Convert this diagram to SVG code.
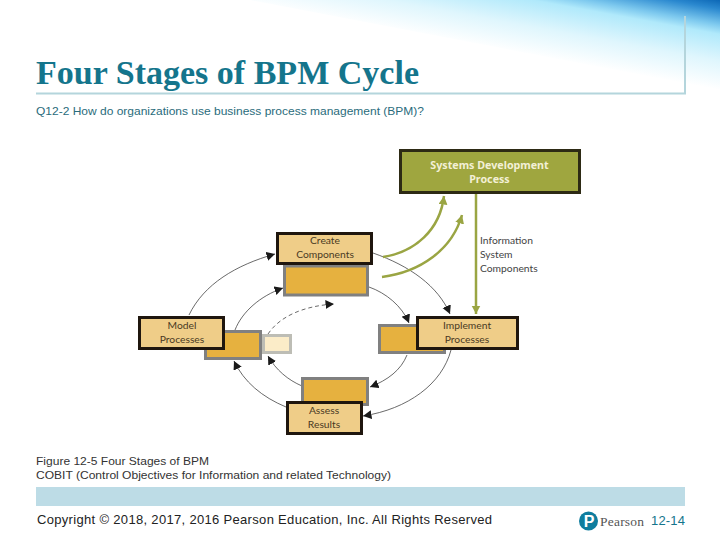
<svg xmlns="http://www.w3.org/2000/svg" width="720" height="540" viewBox="0 0 720 540">
<style>
.sans{font-family:"Liberation Sans",Arial,sans-serif}
.lbl{font-family:Lato,"Noto Sans",sans-serif;font-size:10.300px;fill:#4a3a24;text-anchor:middle}
.info{font-family:Lato,"Noto Sans",sans-serif;font-size:10.300px;fill:#444}
.main{fill:#efcd88;stroke:#1f160e;stroke-width:3}
.sub{fill:#e6b13f;stroke:#808080;stroke-width:3}
.arc{fill:none;stroke:#444;stroke-width:.8}
.ol{fill:none;stroke:#9aa543;stroke-width:2.500}
.small{font-family:"Liberation Sans",Arial,sans-serif;font-size:11px;fill:#333}
.sys{font-family:"Noto Sans",sans-serif;font-weight:700;font-size:10.700px;fill:#f3f0d6;text-anchor:middle}
</style>
<defs>
<linearGradient id="sky" gradientUnits="userSpaceOnUse" x1="720" y1="90" x2="737" y2="-3">
<stop offset="0" stop-color="#fff"/><stop offset=".3" stop-color="#dff6fd"/><stop offset=".58" stop-color="#b0e9fb"/><stop offset=".68" stop-color="#7cc8ee"/><stop offset=".84" stop-color="#2a88cf"/><stop offset=".96" stop-color="#0560b0"/>
</linearGradient>
<marker id="bk" markerUnits="userSpaceOnUse" markerWidth="10" markerHeight="10" refX="8.500" refY="4.500" orient="auto"><path d="M0 0L8.500 4.500L0 9Z" fill="#1a1a1a"/></marker>
<marker id="gr" markerUnits="userSpaceOnUse" markerWidth="10" markerHeight="10" refX="8.500" refY="4.500" orient="auto"><path d="M0 0L8.500 4.500L0 9Z" fill="#9aa543"/></marker>
</defs>
<rect width="720" height="540" fill="#fff"/>
<path d="M250 0H720V90Z" fill="url(#sky)"/>
<path d="M36 93.500H685V16" fill="none" stroke="#b4d5dc" stroke-width="2"/>
<text x="36" y="84" font-family="Liberation Serif,serif" font-weight="700" font-size="33" fill="#14758c" textLength="383" lengthAdjust="spacingAndGlyphs">Four Stages of BPM Cycle</text>
<text class="small" x="36" y="115" style="fill:#2a6c7c" textLength="388" lengthAdjust="spacingAndGlyphs">Q12-2 How do organizations use business process management (BPM)?</text>

<g id="connectors">
<path class="arc" marker-end="url(#bk)" d="M189 315C204 284 236 265 275 254"/>
<path class="arc" marker-end="url(#bk)" d="M235 330C242 312 260 296 283 288"/>
<path class="arc" stroke-dasharray="4 3" marker-end="url(#bk)" d="M268 334C280 316 304 306 334 304"/>
<path class="arc" marker-end="url(#bk)" d="M302 386C288 380 276 370 268 356"/>
<path class="arc" marker-end="url(#bk)" d="M286 407C262 397 244 382 234 361"/>
<path class="arc" marker-end="url(#bk)" d="M373 253C410 266 438 286 450 314"/>
<path class="arc" marker-end="url(#bk)" d="M369 287C386 293 402 306 409 323"/>
<path class="arc" marker-end="url(#bk)" d="M407 355C401 370 388 380 370 387"/>
<path class="arc" marker-end="url(#bk)" d="M451 350C442 384 408 409 363 416"/>
<path class="ol" marker-end="url(#gr)" d="M383 257C415 252 440 230 444 196"/>
<path class="ol" marker-end="url(#gr)" d="M382 277C420 272 452 250 462 215"/>
<path class="ol" marker-end="url(#gr)" d="M476 194V314"/>
</g>

<g id="pale"><rect x="263.500" y="335.500" width="27" height="17" fill="#fbecc8" stroke="#bdbdb5" stroke-width="3"/></g>
<g id="create-sub"><rect class="sub" x="284.500" y="266" width="83" height="29"/></g>
<g id="model-sub"><rect class="sub" x="205.500" y="331.500" width="55" height="27"/></g>
<g id="assess-sub"><rect class="sub" x="302.500" y="378.500" width="65" height="26"/></g>
<g id="implement-sub"><rect class="sub" x="379.500" y="325.500" width="65" height="27"/></g>

<g id="create"><rect class="main" x="277.500" y="233.500" width="94" height="30"/>
<text class="lbl" x="325" y="244">Create</text><text class="lbl" x="325" y="258">Components</text></g>
<g id="model"><rect class="main" x="139.500" y="317.500" width="84" height="31"/>
<text class="lbl" x="182" y="329">Model</text><text class="lbl" x="182" y="343">Processes</text></g>
<g id="implement"><rect class="main" x="417.500" y="317.500" width="100" height="31"/>
<text class="lbl" x="467" y="329">Implement</text><text class="lbl" x="467" y="343">Processes</text></g>
<g id="assess"><rect class="main" x="287.500" y="402.500" width="74" height="31"/>
<text class="lbl" x="324" y="414">Assess</text><text class="lbl" x="324" y="428">Results</text></g>
<g id="systems"><rect x="400.500" y="150.500" width="179" height="42" fill="#9fa63f" stroke="#2d2a14" stroke-width="3"/>
<text class="sys" x="489.500" y="169">Systems Development</text>
<text class="sys" x="489.500" y="183">Process</text></g>
<g id="info"><text class="info" x="480" y="244">Information</text>
<text class="info" x="480" y="258">System</text>
<text class="info" x="480" y="272">Components</text></g>

<text class="small" x="36" y="465" textLength="173" lengthAdjust="spacingAndGlyphs">Figure 12-5 Four Stages of BPM</text>
<text class="small" x="36" y="479" textLength="355" lengthAdjust="spacingAndGlyphs">COBIT (Control Objectives for Information and related Technology)</text>
<rect x="36" y="487" width="649" height="19" fill="#bddce6"/>
<text class="sans" x="37" y="524" font-size="13" fill="#222" textLength="455">Copyright © 2018, 2017, 2016 Pearson Education, Inc. All Rights Reserved</text>
<g id="pearson"><circle cx="588.500" cy="521" r="9.500" fill="#0f7d9e"/>
<text x="589" y="527" font-family="Liberation Sans,sans-serif" font-weight="700" font-size="16" fill="#fff" text-anchor="middle">P</text>
<text x="600" y="526" font-family="Liberation Serif,serif" font-size="13.500" fill="#555" textLength="44">Pearson</text></g>
<text class="sans" x="651" y="525" font-size="13" fill="#14758c" textLength="34">12-14</text>
</svg>
